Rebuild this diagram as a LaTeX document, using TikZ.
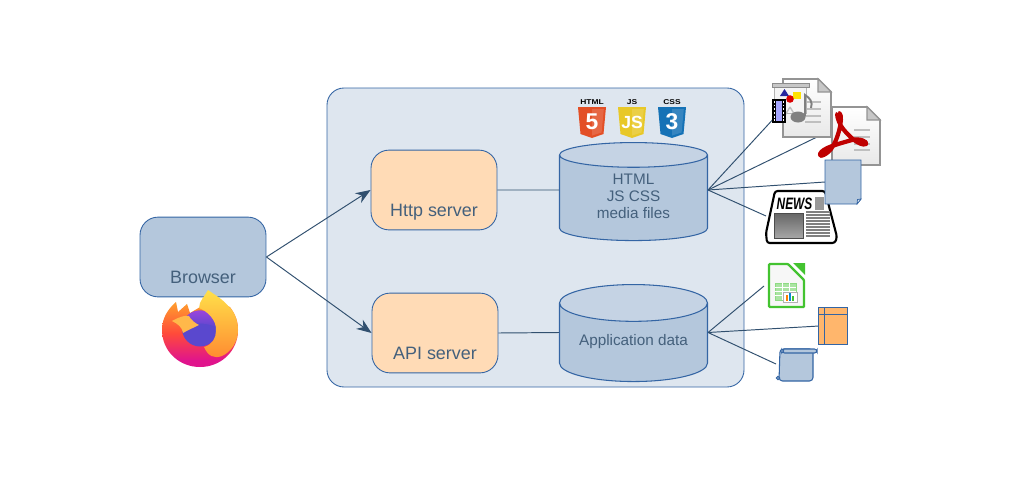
\documentclass[tikz,border=0pt]{standalone}
\usepackage{fontspec}
\setmainfont{Liberation Sans}
\usetikzlibrary{arrows.meta,shapes.geometric}
\definecolor{boxblue}{HTML}{B4C7DC}
\definecolor{paleblue}{HTML}{DEE6EF}
\definecolor{paleorange}{HTML}{FFDBB6}
\definecolor{tableorange}{HTML}{FFB66C}
\definecolor{edgeblue}{HTML}{3465A4}
\definecolor{wireblue}{HTML}{31506F}
\definecolor{textblue}{HTML}{44607C}
\definecolor{calcgreen}{HTML}{43C330}
\definecolor{foxorange}{HTML}{FF9A2E}
\definecolor{foxred}{HTML}{FF4A3A}
\definecolor{foxpink}{HTML}{E0148C}
\definecolor{foxyellow}{HTML}{FFE04A}
\definecolor{foxhead}{HTML}{FFB84A}
\definecolor{globetop}{HTML}{9A45DC}
\definecolor{globelow}{HTML}{5A48CE}
\pgfdeclareverticalshading{foxbody}{100bp}{color(0bp)=(foxpink); color(30bp)=(foxpink); color(50bp)=(foxred); color(72bp)=(foxorange); color(100bp)=(foxorange)}
\tikzset{
  srvbox/.style={draw=edgeblue, rounded corners=0.36cm, inner xsep=0pt, inner ysep=0pt, minimum width=2.52cm,
    text height=38pt, text depth=7.4pt, text=textblue, font=\fontsize{10.2}{12}\selectfont, line width=0.5pt},
  store/.style={cylinder, shape border rotate=90, draw=edgeblue, aspect=0.338, cylinder uses custom fill,
    cylinder body fill=boxblue, cylinder end fill=boxblue!60!paleblue, minimum width=2.96cm, inner sep=0pt, line width=0.6pt,
    text=textblue, align=center, font=\fontsize{8.7}{9.64}\selectfont},
  wire/.style={draw=wireblue, line width=0.55pt},
  pagelines/.style={draw=black!25, line width=1.2pt},
  shieldtag/.style={font=\fontsize{4}{4}\selectfont\bfseries, inner sep=0pt, text=black},
  docpage/.pic={
    \filldraw [draw=black!42, line width=1pt, top color=white, bottom color=black!9] (0,0) -- (35,0) -- (48,13) -- (48,58) -- (0,58) -- cycle;
    \filldraw [draw=black!42, line width=0.6pt, fill=black!22] (35,0) -- (35,13) -- (48,13) -- cycle;
    \draw [pagelines] (22,23) -- (38,23);
    \draw [pagelines] (22,30) -- (38,30);
    \draw [pagelines] (22,37) -- (38,37);
    \draw [pagelines] (22,43) -- (38,43);
  },
  shield/.pic={
    \fill [pic actions] (0,0) -- (28,0) -- (25.5,27) -- (14,31) -- (2.5,27) -- cycle;
    \fill [white, opacity=0.14] (14,2) -- (25.8,2) -- (23.6,25.5) -- (14,28.5) -- cycle;
  },
}
\begin{document}
\begin{tikzpicture}[x=0.02cm, y=-0.02cm]
    \useasboundingbox (0,0) rectangle (1024,480);
    \filldraw [draw=edgeblue, fill=paleblue, rounded corners=0.34cm, line width=0.5pt] (327,88) rectangle (744,387);
    %
    \node (browser) [srvbox, fill=boxblue] at (203,257) {Browser};
    \node (http) [srvbox, fill=paleorange] at (434,190) {Http server};
    \node (api) [srvbox, fill=paleorange] at (435,333) {API server};
    \node (html) [store, minimum height=1.96cm] at (633.5,198) {HTML\\JS CSS\\media files\rule[-2.2pt]{0pt}{2.2pt}};
    \node (data) [store, minimum height=1.94cm, text depth=3pt] at (633.5,342.5) {Application data};
    %
    \coordinate (htmlleft) at ([yshift=0.16cm]html.west);
    \coordinate (htmlright) at ([yshift=0.16cm]html.east);
    \coordinate (dataleft) at ([yshift=0.2cm]data.west);
    \coordinate (dataright) at ([yshift=0.2cm]data.east);
    \coordinate (showfile) at (788,103);
    \coordinate (pdffile) at (817,137);
    \coordinate (notefile) at (825,182);
    \coordinate (newsfile) at (766,216);
    \coordinate (calcfile) at (764,286);
    \coordinate (tablefile) at (819,326);
    \coordinate (scrollfile) at (776,364);
    %
    \draw [wire, -{Stealth[length=8.5pt,width=6.5pt]}] (browser.east) -- (http.west);
    \draw [wire, -{Stealth[length=8.5pt,width=6.5pt]}] (browser.east) -- (api.west);
    \draw [wire] (http.east) -- (htmlleft);
    \draw [wire] (api.east) -- (dataleft);
    \draw [wire] (htmlright) -- (showfile);
    \draw [wire] (htmlright) -- (pdffile);
    \draw [wire] (htmlright) -- (notefile);
    \draw [wire] (htmlright) -- (newsfile);
    \draw [wire] (dataright) -- (calcfile);
    \draw [wire] (dataright) -- (tablefile);
    \draw [wire] (dataright) -- (scrollfile);
    %
    % firefox
    \path [shading=foxbody] (176,302) -- (178,312) -- (187,304) -- (190,313) -- (212,300) -- (230,307) .. controls (236,315) and (238,322) .. (238,330) .. controls (238,351) and (221,367) .. (200,367) .. controls (179,367) and (162,351) .. (162,330) .. controls (162,318) and (168,309) .. (176,302) -- cycle;
    \fill [globelow] (200,328.5) circle [radius=18];
    \shade [top color=globetop, bottom color=globelow] (200,310.5) .. controls (210,310.5) and (218,318.5) .. (218,328) .. controls (206,322) and (194,322) .. (182,328) .. controls (182,318.5) and (190,310.5) .. (200,310.5) -- cycle;
    \shade [top color=foxyellow, bottom color=foxorange!80!foxred] (208,290) .. controls (215,295) and (224,300) .. (229,307) .. controls (235,312) and (238,322) .. (238,330) .. controls (238,342) and (231,352) .. (222,356) .. controls (214,359) and (208,356) .. (204,347) .. controls (212,345) and (216,338) .. (216,331) .. controls (217,320) and (207,311) .. (199,308) .. controls (199,301) and (205,296) .. (208,290) -- cycle;
    \fill [foxhead] (172,321) .. controls (179,317) and (185,315) .. (189,316) .. controls (191,320) and (195,323) .. (199,325) .. controls (193,328) and (188,330) .. (183,333) .. controls (182,327) and (178,324) .. (172,321) -- cycle;
    %
    % web badges
    \node (htmltag) [shieldtag] at (592,102) {\scalebox{1.2}[1]{HTML}};
    \node (jstag) [shieldtag] at (632,102) {\scalebox{1.2}[1]{JS}};
    \node (csstag) [shieldtag] at (672,102) {\scalebox{1.2}[1]{CSS}};
    \pic [fill={rgb,255:red,227;green,79;blue,38}] at (578,107) {shield};
    \pic [fill={rgb,255:red,232;green,200;blue,40}] at (618,107) {shield};
    \pic [fill={rgb,255:red,21;green,114;blue,182}] at (658,107) {shield};
    \node (htmlmark) [font=\fontsize{13}{13}\selectfont\bfseries, text=white, inner sep=0pt] at (592,122) {5};
    \node (jsmark) [font=\fontsize{10}{10}\selectfont\bfseries, text=white, inner sep=0pt] at (632,122) {JS};
    \node (cssmark) [font=\fontsize{13}{13}\selectfont\bfseries, text=white, inner sep=0pt] at (672,122) {3};
    %
    % presentation file
    \pic at (783,79) {docpage};
    \filldraw [draw=black!30, fill=black!4, line width=0.5pt] (774,87) rectangle (806,113);
    \filldraw [draw=black!45, fill=black!22, line width=0.5pt] (772,83) rectangle (809,87);
    \draw [black!25, line width=0.8pt] (790,107) -- (781,122);
    \draw [black!25, line width=0.8pt] (790,107) -- (799,122);
    \fill [blue!55!black!85] (784.5,89) -- (789,96) -- (780,96) -- cycle;
    \fill [yellow!85!orange] (793,92) rectangle (801,99);
    \fill [red!85!black] (790,99) circle [radius=3.8];
    \fill [black!50] (798,117) ellipse [x radius=7.5, y radius=5.5];
    \draw [black!50, line width=1.1pt] (805,116) -- (805,95) .. controls (810,98) and (813,102) .. (811,108);
    \filldraw [draw=black, fill=blue!35!white, line width=0.6pt] (773,100) rectangle (785,122);
    \draw [black, line width=1.4pt] (774.3,100) -- (774.3,122);
    \draw [black, line width=1.4pt] (783.7,100) -- (783.7,122);
    \draw [white, line width=0.8pt, dash pattern=on 1pt off 1.1pt] (774.3,101) -- (774.3,122);
    \draw [white, line width=0.8pt, dash pattern=on 1pt off 1.1pt] (783.7,101) -- (783.7,122);
    %
    % pdf file
    \pic at (832,107) {docpage};
    \draw [draw=red!75!black, line width=2.4pt, line join=round] (838,113) .. controls (844,112) and (840,134) .. (833,146) .. controls (828,155) and (818,158) .. (820,154) .. controls (822,148) and (838,144) .. (852,140) .. controls (860,138) and (868,142) .. (866,144) .. controls (860,147) and (847,135) .. (841,126) .. controls (838,120) and (836,114) .. (838,113);
    %
    % news file
    \filldraw [draw=black, fill=white, line width=1.2pt, rounded corners=1.5pt] (775,191) -- (825,191) -- (837,237) -- (835,243) -- (767,243) -- (766,233) -- cycle;
    \node (newstitle) [font=\fontsize{9.4}{9.4}\selectfont\bfseries\itshape, inner sep=0pt, text=black] at (794.5,204) {\scalebox{0.72}[1]{NEWS}};
    \fill [black!40] (815,197) rectangle (824,210);
    \shade [top color=black!60, bottom color=black!35, draw=black!70] (774,213) rectangle (803,238);
    \foreach \rowy in {212,215,...,236} \draw [black!50, line width=0.7pt] (806,\rowy) -- (830,\rowy);
    %
    % note file
    \filldraw [draw=edgeblue, fill=boxblue, line width=0.5pt] (825,160) -- (861,160) -- (861,199) -- (857,204) -- (825,204) -- cycle;
    \filldraw [draw=edgeblue, fill=paleblue, line width=0.4pt] (857,204) -- (857.5,199.5) -- (861,199) -- cycle;
    %
    % spreadsheet file
    \filldraw [draw=calcgreen, fill=black!3, line width=1.3pt, rounded corners=0.5pt] (769,264) -- (788,264) -- (804,280) -- (804,307) -- (769,307) -- cycle;
    \fill [calcgreen] (793,263) -- (805,263) -- (805,275) -- cycle;
    \filldraw [draw=calcgreen!60, fill=calcgreen!45, line width=0.5pt] (775,283) rectangle (796,300);
    \foreach \rowy in {287,291,295} \draw [white] (775,\rowy) -- (796,\rowy);
    \foreach \colx in {782,789} \draw [white] (\colx,283) -- (\colx,300);
    \filldraw [draw=black!30, fill=white, line width=0.3pt] (783,292) rectangle (797,302);
    \fill [orange] (786,295) rectangle (788,301);
    \fill [cyan!70!blue] (789,293) rectangle (791,301);
    \fill [calcgreen] (792,296) rectangle (794,301);
    %
    % table file
    \filldraw [draw=edgeblue, fill=tableorange, line width=0.5pt] (818,307) rectangle (847,344);
    \draw [edgeblue, line width=0.5pt] (824,307) -- (824,344);
    \draw [edgeblue, line width=0.5pt] (818,314) -- (847,314);
    %
    % scroll file
    \filldraw [draw=edgeblue, fill=boxblue, line width=0.6pt, rounded corners=2pt] (780,349) -- (813,349) -- (813,381) -- (779,381) -- cycle;
    \filldraw [draw=edgeblue, fill=boxblue, line width=0.6pt, rounded corners=1.5pt] (782,349) rectangle (817,353);
    \filldraw [draw=edgeblue, fill=edgeblue!70, line width=0.4pt] (782,351) circle [radius=1.8];
    \filldraw [draw=edgeblue, fill=edgeblue!70, line width=0.4pt] (778,378) circle [radius=1.8];
\end{tikzpicture}
\end{document}
